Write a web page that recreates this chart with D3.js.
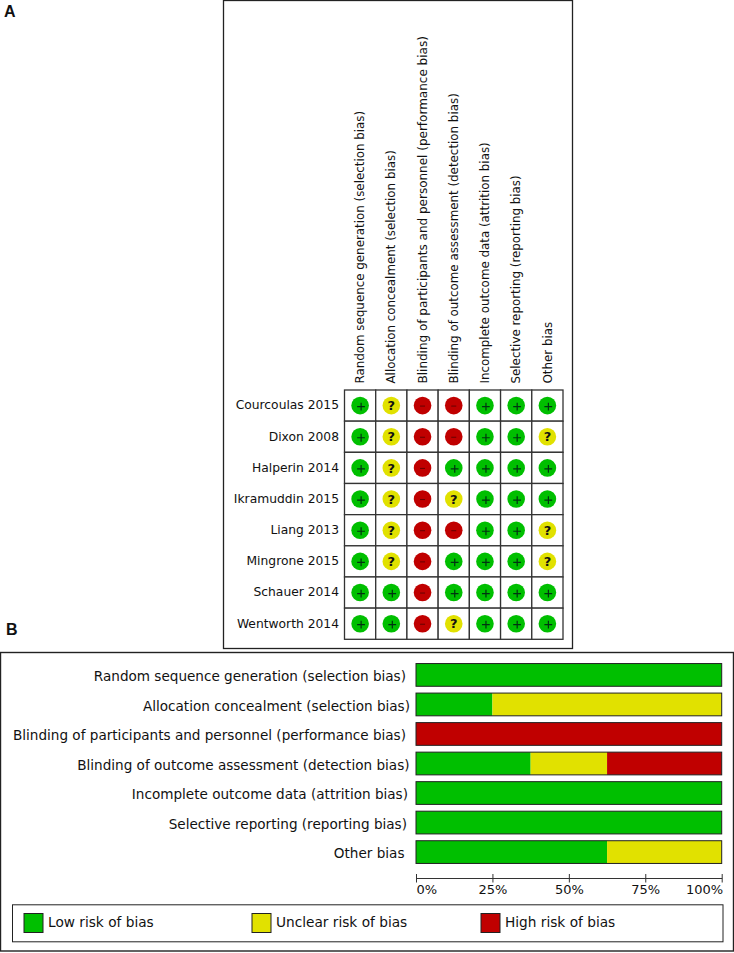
<!DOCTYPE html>
<html>
<head>
<meta charset="utf-8">
<style>
  html, body { margin: 0; padding: 0; background: #fff; }
  text { font-family: "DejaVu Sans", sans-serif; fill: #111; }
</style>
</head>
<body>
<div id="chart"></div>
<script src="https://cdn.jsdelivr.net/npm/d3@7"></script>
<script>
const domains = [
  "Random sequence generation (selection bias)",
  "Allocation concealment (selection bias)",
  "Blinding of participants and personnel (performance bias)",
  "Blinding of outcome assessment (detection bias)",
  "Incomplete outcome data (attrition bias)",
  "Selective reporting (reporting bias)",
  "Other bias",
];
const studies = [
  "Courcoulas 2015", "Dixon 2008", "Halperin 2014", "Ikramuddin 2015",
  "Liang 2013", "Mingrone 2015", "Schauer 2014", "Wentworth 2014",
];
// one string per study, one judgement per domain
const judgements = [
  "+?--+++",
  "+?--++?",
  "+?-++++",
  "+?-?+++",
  "+?--++?",
  "+?-+++?",
  "++-++++",
  "++-?+++",
];
const lowPct = [100, 25, 0, 37.5, 100, 100, 62.5];
const unclearPct = [0, 75, 0, 25, 0, 0, 37.5];
const highPct = [0, 0, 100, 37.5, 0, 0, 0];
const pctTicks = [0, 25, 50, 75, 100];
const legendLabels = ["Low risk of bias", "Unclear risk of bias", "High risk of bias"];

const GREEN = "#00bf00", YELLOW = "#e1e100", RED = "#c00000";
const colorOf = { "+": GREEN, "?": YELLOW, "-": RED };
const width = 734, height = 953;

const svg = d3.select("#chart").append("svg")
  .attr("width", width)
  .attr("height", height)
  .style("display", "block");

// panel letters
svg.append("text").attr("x", 4).attr("y", 17).attr("font-size", 16).attr("font-weight", "bold")
  .style("font-family", "Liberation Sans, sans-serif").text("A");
svg.append("text").attr("x", 6).attr("y", 635).attr("font-size", 16).attr("font-weight", "bold")
  .style("font-family", "Liberation Sans, sans-serif").text("B");

// panel A
svg.append("rect").attr("x", 223.5).attr("y", 0.5).attr("width", 349).attr("height", 648)
  .attr("fill", "#fff").attr("stroke", "#222").attr("stroke-width", 1.3);

const xCell = d3.scaleBand().domain(d3.range(domains.length)).range([344.5, 563]);
const yCell = d3.scaleBand().domain(d3.range(studies.length)).range([390, 639.3]);

const grid = svg.append("g");
studies.forEach((s, r) => {
  domains.forEach((d, c) => {
    grid.append("rect")
      .attr("x", xCell(c)).attr("y", yCell(r))
      .attr("width", xCell.bandwidth()).attr("height", yCell.bandwidth())
      .attr("fill", "#fff").attr("stroke", "#333").attr("stroke-width", 1.3);
  });
});

svg.append("g").selectAll("text").data(studies).join("text")
  .attr("x", 339)
  .attr("y", (d, i) => yCell(i) + yCell.bandwidth() / 2 - 0.5)
  .attr("dy", "0.35em")
  .attr("text-anchor", "end")
  .attr("font-size", 12.3)
  .text(d => d);

svg.append("g").selectAll("text").data(domains).join("text")
  .attr("transform", (d, i) => `translate(${xCell(i) + xCell.bandwidth() / 2},383.5) rotate(-90)`)
  .attr("dy", "0.35em")
  // the long performance label runs a touch wider in the original
  .attr("font-size", d => d.length > 50 ? 12 : 11.87)
  .text(d => d);

const cells = svg.append("g").selectAll("g")
  .data(judgements.flatMap((row, r) => row.split("").map((j, c) => ({ r, c, j }))))
  .join("g")
  .attr("transform", d => `translate(${xCell(d.c) + xCell.bandwidth() / 2},${yCell(d.r) + yCell.bandwidth() / 2})`);
cells.append("circle").attr("r", 8.8).attr("fill", d => colorOf[d.j]);
cells.filter(d => d.j === "?").append("text")
  .attr("text-anchor", "middle").attr("dy", "0.36em")
  .attr("font-size", 13).attr("font-weight", "bold")
  .text("?");
cells.filter(d => d.j === "+").append("path")
  .attr("d", "M-3,1H4.8M1,-2.9V4.9")
  .attr("stroke", "#031").attr("stroke-width", 1.2);
cells.filter(d => d.j === "-").append("path")
  .attr("d", "M-2.5,0.5H2.5")
  .attr("stroke", "#600").attr("stroke-width", 1);

// panel B
svg.append("rect").attr("x", 0.5).attr("y", 652.5).attr("width", 733).attr("height", 298.5)
  .attr("fill", "#fff").attr("stroke", "#222").attr("stroke-width", 1.4);

const x = d3.scaleLinear().domain([0, 100]).range([416, 721.7]);
const y = d3.scaleBand().domain(d3.range(domains.length)).range([660, 867]).paddingInner(0.23).paddingOuter(0.12);

const segments = domains.flatMap((d, i) => {
  let start = 0;
  return [[lowPct[i], GREEN], [unclearPct[i], YELLOW], [highPct[i], RED]]
    .filter(s => s[0] > 0)
    .map(s => {
      const seg = { i, x0: start, x1: start + s[0], color: s[1] };
      start += s[0];
      return seg;
    });
});
svg.append("g").selectAll("rect").data(segments).join("rect")
  .attr("x", d => x(d.x0)).attr("y", d => y(d.i))
  .attr("width", d => x(d.x1) - x(d.x0)).attr("height", y.bandwidth())
  .attr("fill", d => d.color);
svg.append("g").selectAll("rect").data(domains).join("rect")
  .attr("x", x(0)).attr("y", (d, i) => y(i))
  .attr("width", x(100) - x(0)).attr("height", y.bandwidth())
  .attr("fill", "none").attr("stroke", "#222").attr("stroke-width", 1);

// right edges of the labels wander a little in the original
const labelEnd = [406, 410, 406, 409.5, 408, 407, 404.5];
svg.append("g").selectAll("text").data(domains).join("text")
  .attr("x", (d, i) => labelEnd[i])
  .attr("y", (d, i) => y(i) + y.bandwidth() / 2 + 1.5)
  .attr("dy", "0.35em")
  .attr("text-anchor", "end")
  .attr("font-size", 13.58)
  .text(d => d);

const axis = svg.append("g")
  .attr("transform", "translate(0,878)")
  .call(d3.axisBottom(x).tickValues(pctTicks).tickFormat(d => d + "%").tickSize(0));
axis.select(".domain").attr("stroke", "#333");
axis.selectAll(".tick").append("line").attr("y1", -4).attr("y2", 4.5).attr("stroke", "#333");
axis.selectAll(".tick text")
  .attr("y", 7).attr("dy", "0.71em")
  .attr("font-size", 13).attr("font-family", null)
  .attr("fill", null)
  .attr("text-anchor", d => d === 0 ? "start" : d === 100 ? "end" : "middle")
  .attr("x", d => d === 100 ? 1 : 0);

// legend
svg.append("rect").attr("x", 12.5).attr("y", 904.8).attr("width", 710.5).attr("height", 37)
  .attr("fill", "#fff").attr("stroke", "#222").attr("stroke-width", 1);
const legendX = d3.scaleOrdinal().domain(legendLabels).range([24, 252, 481]);
const legendColor = d3.scaleOrdinal().domain(legendLabels).range([GREEN, YELLOW, RED]);
const items = svg.append("g").selectAll("g").data(legendLabels).join("g")
  .attr("transform", d => `translate(${legendX(d)},913.5)`);
items.append("rect").attr("width", 19).attr("height", 19)
  .attr("fill", d => legendColor(d)).attr("stroke", "#222").attr("stroke-width", 1);
items.append("text").attr("x", 24).attr("y", 8.5).attr("dy", "0.35em")
  .attr("font-size", 13.7).text(d => d);
</script>
</body>
</html>
